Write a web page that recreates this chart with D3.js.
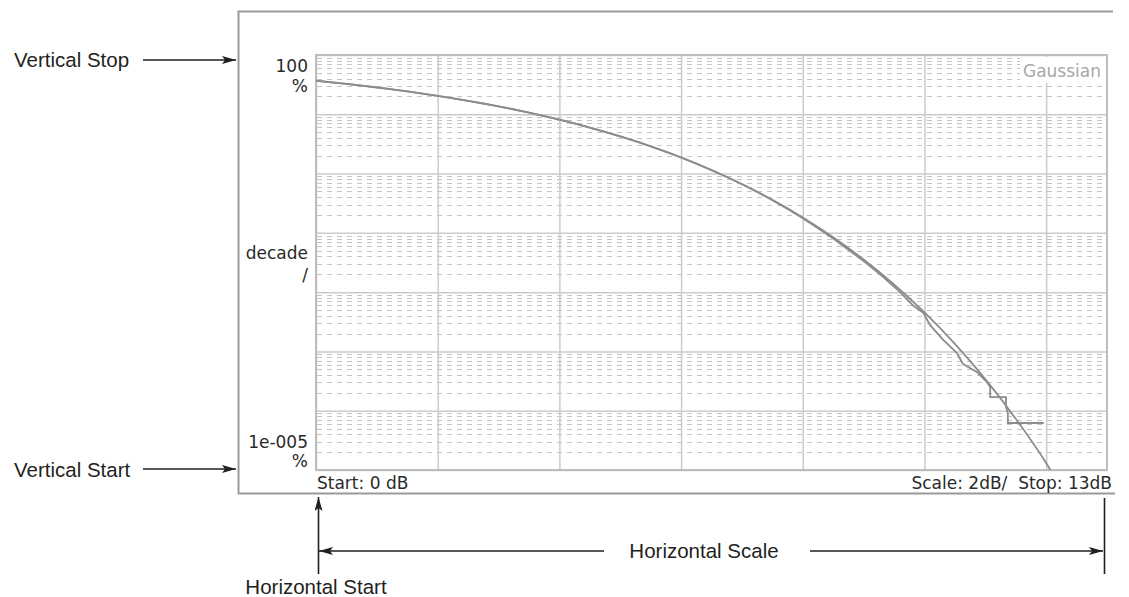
<!DOCTYPE html>
<html><head><meta charset="utf-8">
<script src="https://cdn.jsdelivr.net/npm/d3@7"></script>
<style>
html,body{margin:0;padding:0;background:#fff;}
svg{display:block;}
text{white-space:pre;}
</style></head>
<body>
<svg id="chart" width="1129" height="597"></svg>
<script>
// ---- data ----
const xMajorTicks = [0, 2, 4, 6, 8, 10, 12];
const yDecades = [1e-5, 1e-4, 1e-3, 1e-2, 1e-1, 1, 10, 100];
const minorMultipliers = [2, 3, 4, 5, 6, 7, 8, 9];

// Gaussian reference curve (dB above average, % probability)
const gaussDb  = [0, 0.5, 1, 1.5, 2, 2.5, 3, 3.5, 4, 4.5, 5, 5.5, 6, 6.5, 7, 7.5, 8, 8.5, 9, 9.5, 10, 10.5, 11, 11.5, 12, 12.07];
const gaussPct = [36.8, 32.6, 28.4, 24.35, 20.5, 16.9, 13.6, 10.66, 8.11, 5.97, 4.23, 2.88, 1.867, 1.148, 0.666, 0.361, 0.182, 0.0843, 0.0355, 0.01346, 0.00454, 0.00134, 0.000341, 0.0000733, 0.0000131, 0.00001];

// Measured CCDF trace
const measDb  = [0, 0.25, 0.5, 0.75, 1, 1.25, 1.5, 1.75, 2, 2.25, 2.5, 2.75, 3, 3.25, 3.5, 3.75, 4, 4.25, 4.5, 4.75, 5, 5.25, 5.5, 5.75, 6, 6.25, 6.5, 6.75, 7, 7.25, 7.5, 7.75, 8, 8.25, 8.5, 8.75, 9, 9.27, 9.6, 9.81, 9.98, 10.09, 10.3, 10.53, 10.63, 10.86, 11.03, 11.08, 11.08, 11.34, 11.34, 11.37, 11.37, 11.96];
const measPct = [36.9, 34.6, 32.5, 30.4, 28.3, 26.3, 24.3, 22.4, 20.5, 18.6, 16.9, 15.2, 13.6, 12.1, 10.7, 9.35, 8.12, 7.0, 5.98, 5.06, 4.24, 3.52, 2.89, 2.34, 1.87, 1.47, 1.14, 0.875, 0.66, 0.49, 0.355, 0.252, 0.176, 0.12, 0.080, 0.052, 0.0335, 0.020, 0.0100, 0.0060, 0.0045, 0.0028, 0.0016, 0.00095, 0.00062, 0.00045, 0.00030, 0.00025, 0.00017, 0.00017, 0.000116, 0.0000915, 0.000062, 0.000062];

const topLabel = ["100", "%"];
const midLabel = ["decade", "/"];
const bottomLabel = ["1e-005", "%"];
const startLabel = "Start: 0 dB";
const stopLabel = "Scale: 2dB/  Stop: 13dB";
const traceLabel = "Gaussian";

// ---- layout ----
const svg = d3.select("#chart");
const L = 316, R = 1107, T = 55, B = 470;
const x = d3.scaleLinear().domain([0, 13]).range([L, R]);
const y = d3.scaleLog().domain([1e-5, 100]).range([B, T]);

const instFont = "'DejaVu Sans', Verdana, sans-serif";
const annFont = "'Liberation Sans', Arial, Helvetica, sans-serif";

// defs: arrowhead
const defs = svg.append("defs");
defs.append("marker").attr("id", "arr").attr("viewBox", "0 0 14 8")
  .attr("refX", 14).attr("refY", 4).attr("markerWidth", 14).attr("markerHeight", 8)
  .attr("markerUnits", "userSpaceOnUse").attr("orient", "auto")
  .append("path").attr("d", "M0,0 L14,4 L0,8 L3,4 Z").attr("fill", "#231f20");

// outer frame
svg.append("path").attr("d", `M238.5,494 L238.5,11.5 L1113,11.5`)
  .attr("fill", "none").attr("stroke", "#9a9a9a").attr("stroke-width", 2);
svg.append("line").attr("x1", 238).attr("x2", 1115).attr("y1", 493.5).attr("y2", 493.5)
  .attr("stroke", "#9a9a9a").attr("stroke-width", 2);

// minor dashed gridlines
const minorVals = [];
yDecades.slice(0, -1).forEach(d => minorMultipliers.forEach(m => minorVals.push(d * m)));
svg.append("g").selectAll("line").data(minorVals).join("line")
  .attr("x1", L + 1).attr("x2", R - 1)
  .attr("y1", d => Math.round(y(d)) + 0.5).attr("y2", d => Math.round(y(d)) + 0.5)
  .attr("stroke", "#c4c4c4").attr("stroke-width", 1).attr("stroke-dasharray", "5,5");

// major gridlines via axes
const gx = svg.append("g").attr("transform", `translate(0,${B})`)
  .call(d3.axisBottom(x).tickValues(xMajorTicks).tickSize(-(B - T)).tickFormat(""));
const gy = svg.append("g").attr("transform", `translate(${L},0)`)
  .call(d3.axisLeft(y).tickValues(yDecades).tickSize(-(R - L)).tickFormat(""));
[gx, gy].forEach(g => {
  g.select(".domain").remove();
  g.selectAll(".tick line").attr("stroke", "#cbcbcb").attr("stroke-width", 1.5);
});

// label box for "Gaussian"
svg.append("rect").attr("x", 1020).attr("y", 57).attr("width", 86).attr("height", 26)
  .attr("fill", "#fff");
svg.append("text").attr("x", 1101).attr("y", 77).attr("text-anchor", "end")
  .attr("font-family", instFont).attr("font-size", 17).attr("fill", "#a8a8a8").text(traceLabel);

// plot border
svg.append("rect").attr("x", L).attr("y", T).attr("width", R - L).attr("height", B - T)
  .attr("fill", "none").attr("stroke", "#bdbdbd").attr("stroke-width", 2);

// traces
svg.append("path").datum(gaussDb.map((d, i) => [d, gaussPct[i]]))
  .attr("d", d3.line().x(d => x(d[0])).y(d => y(d[1])).curve(d3.curveMonotoneX))
  .attr("fill", "none").attr("stroke", "#8c8c8c").attr("stroke-width", 1.8);
svg.append("path").datum(measDb.map((d, i) => [d, measPct[i]]))
  .attr("d", d3.line().x(d => x(d[0])).y(d => y(d[1])))
  .attr("fill", "none").attr("stroke", "#8c8c8c").attr("stroke-width", 1.8);

// instrument labels
const inst = (t, xx, yy, anchor) => svg.append("text").attr("x", xx).attr("y", yy)
  .attr("text-anchor", anchor).attr("font-family", instFont).attr("font-size", 17)
  .attr("fill", "#2a2a2a").text(t);
inst(topLabel[0], 308, 72, "end");
inst(topLabel[1], 308, 92, "end");
inst(midLabel[0], 308, 259, "end");
inst(midLabel[1], 308, 281, "end");
inst(bottomLabel[0], 308, 448, "end");
inst(bottomLabel[1], 308, 467, "end");
inst(startLabel, 317, 489, "start");
inst(stopLabel, 1112, 489, "end");

// annotations
const ann = (t, xx, yy, anchor) => svg.append("text").attr("x", xx).attr("y", yy)
  .attr("text-anchor", anchor).attr("font-family", annFont).attr("font-size", 20.5)
  .attr("fill", "#231f20").text(t);
const arrow = (x1, y1, x2, y2, head) => {
  const l = svg.append("line").attr("x1", x1).attr("y1", y1).attr("x2", x2).attr("y2", y2)
    .attr("stroke", "#231f20").attr("stroke-width", 1.6);
  if (head) l.attr("marker-end", "url(#arr)");
};
ann("Vertical Stop", 14, 67, "start");
arrow(143, 60, 236, 60, true);
ann("Vertical Start", 14, 477, "start");
arrow(143, 469, 236, 469, true);
ann("Horizontal Scale", 704, 558, "middle");
arrow(604, 551, 319, 551, true);
arrow(810, 551, 1103, 551, true);
arrow(318.5, 574, 318.5, 497, true);
arrow(1104.5, 498, 1104.5, 574, false);
ann("Horizontal Start", 316, 594, "middle");
</script>
</body></html>
